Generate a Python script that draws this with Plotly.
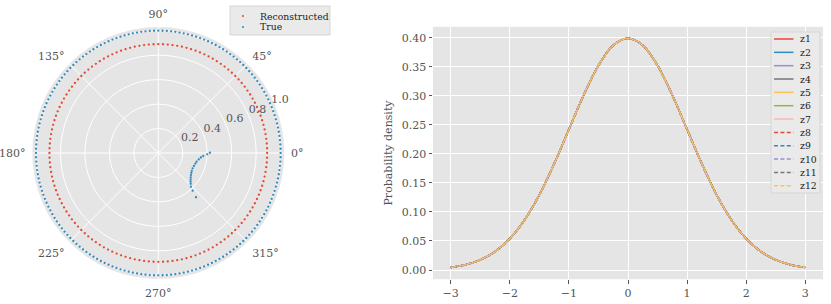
import plotly.graph_objects as go

# ---------------- data ----------------
# Polar panel
recon_theta = [i * 2.5 for i in range(144)]  # dots every 2.5 deg
recon_r = [0.89] * len(recon_theta)
true_ring_theta = [i * 2.0 for i in range(180)]  # dots every 2 deg
true_ring_r = [1.0] * len(true_ring_theta)
true_arc_theta = [0.3, -1.5, -3.8, -6.0, -9.0, -12.8, -16.0, -20.0, -24.0, -28.0, -31.0,
                  -34.0, -37.0, -39.5, -41.5, -43.5, -45.9, -47.6, -49.6]
true_arc_r = [0.422, 0.40, 0.368, 0.35, 0.335, 0.321, 0.315, 0.31, 0.307, 0.31, 0.315,
              0.322, 0.332, 0.342, 0.353, 0.365, 0.383, 0.417, 0.475]
angle_ticks = [0, 45, 90, 135, 180, 225, 270, 315]
angle_labels = ["0°", "45°", "90°", "135°", "180°", "225°", "270°", "315°"]
radial_ticks = [0.2, 0.4, 0.6, 0.8, 1.0]
radial_labels = ["0.2", "0.4", "0.6", "0.8", "1.0"]
RLABEL_ANGLE = 22.5

# Density panel (all 12 curves coincide)
x_vals = [-3.0, -2.75, -2.5, -2.25, -2.0, -1.75, -1.5, -1.25, -1.0, -0.75, -0.5, -0.25, 0.0,
          0.25, 0.5, 0.75, 1.0, 1.25, 1.5, 1.75, 2.0, 2.25, 2.5, 2.75, 3.0]
density = [0.0044, 0.0091, 0.0175, 0.0317, 0.0540, 0.0863, 0.1295, 0.1826, 0.2420, 0.3011,
           0.3521, 0.3867, 0.3989, 0.3867, 0.3521, 0.3011, 0.2420, 0.1826, 0.1295, 0.0863,
           0.0540, 0.0317, 0.0175, 0.0091, 0.0044]
series_names = ["z1", "z2", "z3", "z4", "z5", "z6", "z7", "z8", "z9", "z10", "z11", "z12"]
x_ticks = [-3, -2, -1, 0, 1, 2, 3]
x_ticklabels = ["−3", "−2", "−1", "0", "1", "2", "3"]
y_ticks = [0.0, 0.05, 0.10, 0.15, 0.20, 0.25, 0.30, 0.35, 0.40]

# ---------------- styles ----------------
W, H = 831, 304
FONT = "DejaVu Serif"
TXT = "#555555"
BG = "#E5E5E5"
RED, BLUE = "#E24A33", "#348ABD"
cycle = ["#E24A33", "#348ABD", "#988ED5", "#777777", "#FBC15E", "#8EBA42", "#FFB5B8"]
DASH = "5.5px,2.4px"


def px(x):
    return x / W


def py(y):
    return (H - y) / H


fig = go.Figure()

fig.add_trace(go.Scatterpolar(r=recon_r, theta=recon_theta, mode="markers", name="Reconstructed",
                              marker=dict(color=RED, size=2.3), showlegend=False))
fig.add_trace(go.Scatterpolar(r=true_ring_r + true_arc_r, theta=true_ring_theta + true_arc_theta,
                              mode="markers", name="True",
                              marker=dict(color=BLUE, size=2.3), showlegend=False))
# radial tick labels (matplotlib-style: horizontal, left/bottom anchored on the 22.5 deg ray)
fig.add_trace(go.Scatterpolar(r=radial_ticks, theta=[RLABEL_ANGLE] * len(radial_ticks),
                              mode="text", text=radial_labels, textposition="top right",
                              textfont=dict(family=FONT, size=11, color=TXT),
                              cliponaxis=False, hoverinfo="skip", showlegend=False))

for i, name in enumerate(series_names):
    color = cycle[i % len(cycle)]
    dash = "solid" if i < len(cycle) else DASH
    fig.add_trace(go.Scatter(x=x_vals, y=density, mode="lines", name=name, line_shape="spline",
                             line=dict(color=color, width=1.6, dash=dash), showlegend=False,
                             xaxis="x", yaxis="y"))

shapes = []
annotations = []

# Manual legend, polar panel
LEG_FILL, LEG_EDGE = "#EAEAEA", "#D6D6D6"
shapes.append(dict(type="rect", xref="paper", yref="paper", x0=px(230), x1=px(330), y0=py(35), y1=py(6),
                   fillcolor=LEG_FILL, line=dict(color=LEG_EDGE, width=1), layer="above"))
for label, color, yc in [("Reconstructed", RED, 16), ("True", BLUE, 27)]:
    shapes.append(dict(type="circle", xref="paper", yref="paper", x0=px(242), x1=px(244),
                       y0=py(yc + 1), y1=py(yc - 1), fillcolor=color, line=dict(width=0), layer="above"))
    annotations.append(dict(x=px(257.5), y=py(yc), xref="paper", yref="paper", text=label, showarrow=False,
                            xanchor="left", yanchor="middle", font=dict(family=FONT, size=9.3, color="#222222")))

# Manual legend, density panel
shapes.append(dict(type="rect", xref="paper", yref="paper", x0=px(771), x1=px(820), y0=py(193), y1=py(32),
                   fillcolor=LEG_FILL, line=dict(color=LEG_EDGE, width=1), layer="above"))
for i, name in enumerate(series_names):
    yc = 39 + 13.34 * i
    color = cycle[i % len(cycle)]
    dash = "solid" if i < len(cycle) else "4px,2.4px"
    shapes.append(dict(type="line", xref="paper", yref="paper", x0=px(774), x1=px(793.5), y0=py(yc), y1=py(yc),
                       line=dict(color=color, width=1.5, dash=dash), layer="above"))
    annotations.append(dict(x=px(798), y=py(yc), xref="paper", yref="paper", text=name, showarrow=False,
                            xanchor="left", yanchor="middle", font=dict(family=FONT, size=9.3, color="#222222")))

fig.update_layout(
    width=W, height=H, autosize=False,
    margin=dict(l=0, r=0, t=0, b=0),
    paper_bgcolor="white", plot_bgcolor=BG,
    font=dict(family=FONT, size=11, color=TXT),
    showlegend=False,
    polar=dict(
        domain=dict(x=[px(32.3), px(284.3)], y=[py(279), py(27)]),
        bgcolor=BG,
        radialaxis=dict(range=[0, 1.03], tickmode="array", tickvals=radial_ticks,
                        angle=RLABEL_ANGLE, showticklabels=False, showline=False, ticks="",
                        gridcolor="white", gridwidth=1),
        angularaxis=dict(tickmode="array", tickvals=angle_ticks, ticktext=angle_labels,
                         direction="counterclockwise", rotation=0, showline=False,
                         ticks="outside", ticklen=4, tickcolor="rgba(0,0,0,0)",
                         gridcolor="white", gridwidth=1,
                         tickfont=dict(family=FONT, size=11, color=TXT)),
    ),
    xaxis=dict(domain=[px(433), px(823)], range=[-3.3, 3.3], tickmode="array", tickvals=x_ticks,
               ticktext=x_ticklabels, showgrid=True, gridcolor="white", gridwidth=1, zeroline=False,
               ticks="outside", ticklen=3.5, tickcolor=TXT, showline=False,
               tickfont=dict(family=FONT, size=11, color=TXT), anchor="y"),
    yaxis=dict(domain=[py(279.2), py(26.8)], range=[-0.0158, 0.4187], tickmode="array", tickvals=y_ticks,
               tickformat=".2f", showgrid=True, gridcolor="white", gridwidth=1, zeroline=False,
               ticks="outside", ticklen=3.5, tickcolor=TXT, showline=False,
               tickfont=dict(family=FONT, size=11, color=TXT), anchor="x",
               title=dict(text="Probability density", font=dict(family=FONT, size=11, color=TXT),
                          standoff=6)),
    shapes=shapes,
    annotations=annotations,
)

fig.write_html("out.html", config={"displayModeBar": False},
               post_script="document.body.style.margin='0';")
